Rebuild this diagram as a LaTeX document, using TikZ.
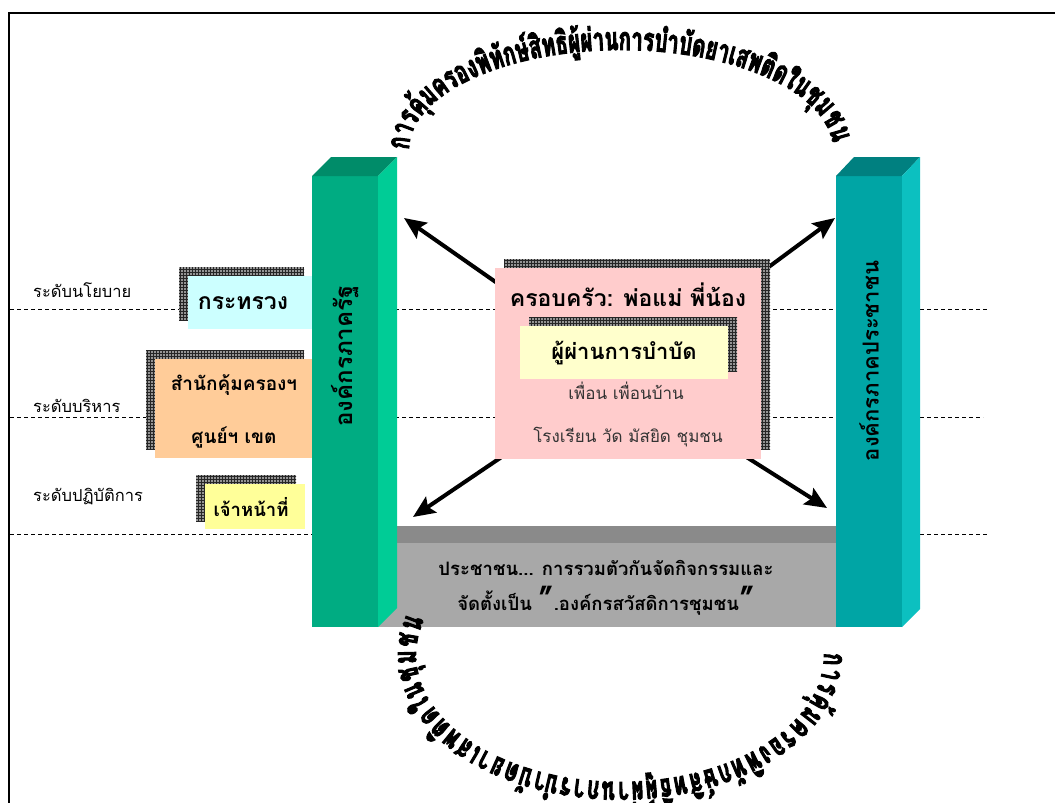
\documentclass[tikz,border=0pt]{standalone}
\usepackage{fontspec}
\setmainfont[Script=Thai]{Loma}
\newfontfamily\arcfam[Script=Thai, FakeStretch=0.63, FakeBold=3]{Loma}
\usetikzlibrary{decorations.text,patterns,arrows.meta}
\definecolor{gfront}{RGB}{0,172,130}
\definecolor{gside}{RGB}{0,204,150}
\definecolor{gtop}{RGB}{0,140,105}
\definecolor{tfront}{RGB}{0,165,165}
\definecolor{tside}{RGB}{12,192,192}
\definecolor{ttop}{RGB}{0,128,128}
\definecolor{slabdark}{RGB}{138,138,138}
\definecolor{slablight}{RGB}{168,168,168}
\definecolor{pinkbox}{RGB}{255,204,204}
\definecolor{creambox}{RGB}{255,255,204}
\definecolor{cyanbox}{RGB}{204,255,255}
\definecolor{peachbox}{RGB}{255,204,153}
\definecolor{yellowbox}{RGB}{255,255,153}
\newcommand\arcfont{\arcfam\bfseries\fontsize{32}{32}\selectfont}
\begin{document}
\begin{tikzpicture}[x=1pt,y=-1pt,
  shadowbox/.style={fill=black!42, postaction={pattern=grid, pattern color=black!85}},
  levellabel/.style={anchor=west, inner sep=0pt, font=\fontsize{16.5}{16.5}\selectfont},
  plainbox/.style={inner sep=0pt, outer sep=0pt},
  boldtext/.style={inner sep=0pt, font=\bfseries\fontsize{20}{20}\selectfont},
  softtext/.style={inner sep=0pt, text=black!80, font=\fontsize{17}{17}\selectfont},
  pillartext/.style={inner sep=0pt, rotate=90},
  bigarrow/.style={line width=4pt, -{Stealth[length=22pt,width=19pt,inset=4pt]}},
  levelline/.style={dash pattern=on 4pt off 3pt, line width=0.8pt},
  arctext/.style={decorate, decoration={text along path, text align=fit to path, text={|\arcfont|การ{คุ้}มครอง{พิ}{ทั}ก{ษ์}{สิ}ท{ธิ}{ผู้}{ผ่}านการ{บำ}{บั}ดยาเสพ{ติ}ดใน{ชุ}มชน}}}
]
\useasboundingbox (0,0) rectangle (1055,803);
% frame
\draw[line width=2pt] (9,803) -- (9,13) -- (1055,13);
% level lines
\coordinate (l1a) at (10,309); \coordinate (l1b) at (989,309);
\coordinate (l2a) at (10,417); \coordinate (l2b) at (983,417);
\coordinate (l3a) at (10,534); \coordinate (l3b) at (989,534);
\draw[levelline] (l1a) -- (l1b);
\draw[levelline] (l2a) -- (l2b);
\draw[levelline] (l3a) -- (l3b);
% level labels
\node[levellabel] (lvpolicy) at (33,290) {ระดับนโยบาย};
\node[levellabel] (lvadmin) at (33,406) {ระดับบริหาร};
\node[levellabel] (lvoper) at (33,497) {ระดับปฏิบัติการ};
% left boxes
\path[shadowbox] (179,267) rectangle (304,320);
\node[plainbox, fill=cyanbox, minimum width=125pt, minimum height=53pt] (ministry) at (250.5,302.5) {};
\node[boldtext, font=\bfseries\fontsize{23}{23}\selectfont] (ministrytxt) at (243,303) {กระทรวง};
\path[shadowbox] (146,350) rectangle (304,449);
\node[plainbox, fill=peachbox, minimum width=158pt, minimum height=99pt] (office) at (234,408.5) {};
\node[boldtext, font=\bfseries\fontsize{19}{19}\selectfont] (officetxt1) at (234,385) {สำนักคุ้มครองฯ};
\node[boldtext, font=\bfseries\fontsize{19}{19}\selectfont] (officetxt2) at (234,437) {ศูนย์ฯ เขต};
\path[shadowbox] (196,475) rectangle (296,521);
\node[plainbox, fill=yellowbox, minimum width=100pt, minimum height=45pt] (staff) at (255,506.5) {};
\node[boldtext, font=\bfseries\fontsize{18.5}{18.5}\selectfont] (stafftxt) at (251,507) {เจ้าหน้าที่};
% bottom slab
\fill[slablight] (378,543) rectangle (836,627);
\fill[slabdark] (397,526) rectangle (836,543);
\node[boldtext, font=\bfseries\fontsize{18.5}{18.5}\selectfont] (people1) at (606,568) {ประชาชน... การรวมตัวกันจัดกิจกรรมและ};
\node[boldtext, font=\bfseries\fontsize{18.5}{18.5}\selectfont] (people2) at (606,601) {จัดตั้งเป็น {\fontsize{32}{32}\selectfont "}.องค์กรสวัสดิการชุมชน{\fontsize{32}{32}\selectfont "}};
% left pillar
\fill[gfront] (312,176) rectangle (378,627);
\fill[gtop] (312,176) -- (331,157) -- (397,157) -- (378,176) -- cycle;
\fill[gside] (378,176) -- (397,157) -- (397,608) -- (378,627) -- cycle;
\node[pillartext, font=\bfseries\fontsize{24}{24}\selectfont] (govt) at (345,356) {องค์กรภาครัฐ};
% right pillar
\fill[tfront] (836,176) rectangle (902,627);
\fill[ttop] (836,176) -- (854,157) -- (920,157) -- (902,176) -- cycle;
\fill[tside] (902,176) -- (920,157) -- (920,609) -- (902,627) -- cycle;
\node[pillartext, font=\bfseries\fontsize{22}{22}\selectfont] (civil) at (869,361) {องค์กรภาคประชาชน};
% arrows
\coordinate (t1) at (530,306); \coordinate (h1) at (404,218);
\coordinate (t2) at (720,303); \coordinate (h2) at (835,218);
\coordinate (t3) at (540,431); \coordinate (h3) at (413,517);
\coordinate (t4) at (710,434); \coordinate (h4) at (827,508);
\draw[bigarrow] (t1) -- (h1);
\draw[bigarrow] (t2) -- (h2);
\draw[bigarrow] (t3) -- (h3);
\draw[bigarrow] (t4) -- (h4);
% center box
\path[shadowbox] (504,259) rectangle (770,449);
\node[plainbox, fill=pinkbox, minimum width=266pt, minimum height=191pt] (family) at (628,363.5) {};
\node[boldtext, font=\bfseries\fontsize{23}{23}\selectfont] (familytxt) at (628,295) {ครอบครัว: พ่อแม่ พี่น้อง};
\path[shadowbox] (529,317) rectangle (737,371);
\node[plainbox, fill=creambox, minimum width=208pt, minimum height=53pt] (patient) at (624,352.5) {};
\node[boldtext, font=\bfseries\fontsize{22}{22}\selectfont] (patienttxt) at (624,353) {ผู้ผ่านการบำบัด};
\node[softtext] (friends) at (626,391) {เพื่อน เพื่อนบ้าน};
\node[softtext] (community) at (628,437) {โรงเรียน วัด มัสยิด ชุมชน};
% arc texts
\coordinate (topc) at (621,150);
\coordinate (botc) at (620,655);
\path[arctext] ([shift={(180:212 and 100)}]topc) arc[start angle=180, end angle=356, x radius=212, y radius=100];
\path[arctext] ([shift={(-1:204 and 127)}]botc) arc[start angle=-1, end angle=196, x radius=204, y radius=127];
\end{tikzpicture}
\end{document}
